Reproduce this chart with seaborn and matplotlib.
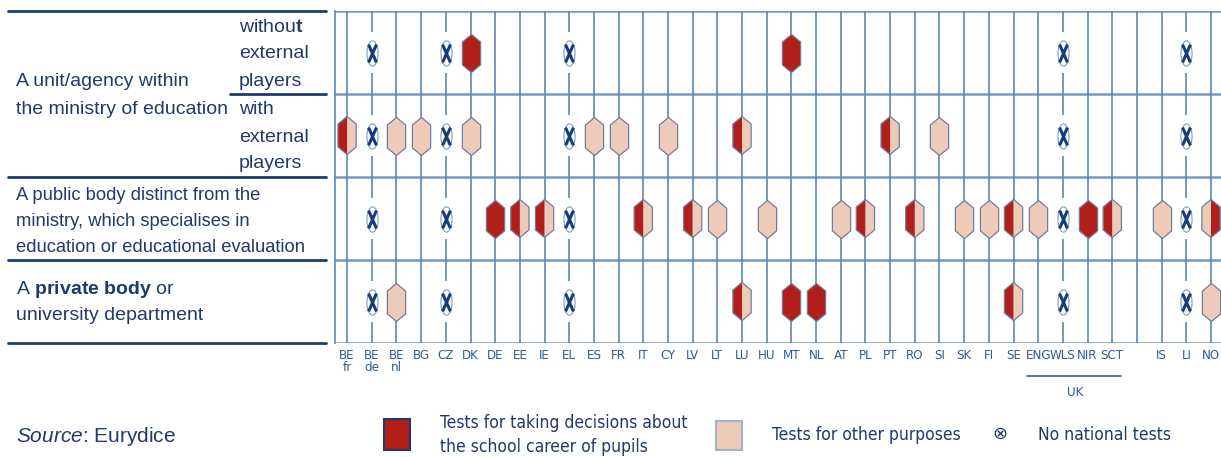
import numpy as np
import pandas as pd
import matplotlib.pyplot as plt
import matplotlib.transforms as mtransforms
from matplotlib import font_manager
from matplotlib.font_manager import FontProperties
from matplotlib.path import Path
from matplotlib.patches import Rectangle
from matplotlib.lines import Line2D
import seaborn as sns

# ---- data ----
codes = ['BE fr', 'BE de', 'BE nl', 'BG', 'CZ', 'DK', 'DE', 'EE', 'IE', 'EL',
         'ES', 'FR', 'IT', 'CY', 'LV', 'LT', 'LU', 'HU', 'MT', 'NL', 'AT', 'PL',
         'PT', 'RO', 'SI', 'SK', 'FI', 'SE', 'ENG', 'WLS', 'NIR', 'SCT', '',
         'IS', 'LI', 'NO']
tick_labels = [c.replace(' ', '\n') for c in codes]

# R = decisions about school career, P = other purposes,
# H = both (decisions left half), Hr = both (decisions right half), X = no national tests
row_without = {'BE de': 'X', 'CZ': 'X', 'DK': 'R', 'EL': 'X', 'MT': 'R',
               'WLS': 'X', 'LI': 'X'}
row_with = {'BE fr': 'H', 'BE de': 'X', 'BE nl': 'P', 'BG': 'P', 'CZ': 'X',
            'DK': 'P', 'EL': 'X', 'ES': 'P', 'FR': 'P', 'CY': 'P', 'LU': 'H',
            'PT': 'H', 'SI': 'P', 'WLS': 'X', 'LI': 'X'}
row_public = {'BE de': 'X', 'CZ': 'X', 'DE': 'R', 'EE': 'H', 'IE': 'H',
              'EL': 'X', 'IT': 'H', 'LV': 'H', 'LT': 'P', 'HU': 'P', 'AT': 'P',
              'PL': 'H', 'RO': 'H', 'SK': 'P', 'FI': 'P', 'SE': 'H', 'ENG': 'P',
              'WLS': 'X', 'NIR': 'R', 'SCT': 'H', 'IS': 'P', 'LI': 'X', 'NO': 'Hr'}
row_private = {'BE de': 'X', 'BE nl': 'P', 'CZ': 'X', 'EL': 'X', 'LU': 'H',
               'MT': 'R', 'NL': 'R', 'SE': 'H', 'WLS': 'X', 'LI': 'X', 'NO': 'P'}
rows = [row_without, row_with, row_public, row_private]

records = []
for r, d in enumerate(rows):
    for code, status in d.items():
        records.append({'x': codes.index(code), 'y': r + 0.5, 'status': status})
df = pd.DataFrame(records)

# ---- style ----
W, H = 1221, 457
RED = '#B21F1A'
PINK = '#EECBB9'
EDGE = '#6F7D9C'
GRID = '#5E86B8'
NAVY = '#1F3A6E'
TICK = '#2F5C9C'

sns.set_style('white')
plt.rcParams['font.family'] = ['Liberation Sans', 'DejaVu Sans']
plt.rcParams['mathtext.fontset'] = 'custom'
plt.rcParams['mathtext.rm'] = 'Liberation Sans'
plt.rcParams['mathtext.bf'] = 'Liberation Sans:bold'
plt.rcParams['mathtext.it'] = 'Liberation Sans:italic'

# look for a narrow / condensed face for the country codes and legend
narrow_file = None
files = [f.fname for f in font_manager.fontManager.ttflist]
for key in ['LiberationSansNarrow-Regular', 'DejaVuSansCondensed.ttf',
            'RobotoCondensed-Regular', 'OpenSans_Condensed-Regular',
            'OpenSansCondensed', 'NotoSans-Condensed.ttf', 'NotoSansDisplay-Condensed']:
    hits = [f for f in files if key in f.split('/')[-1]]
    if hits:
        narrow_file = hits[0]
        break
if narrow_file:
    tick_fp = FontProperties(fname=narrow_file, size=9.5)
    leg_fp = FontProperties(fname=narrow_file, size=12.5)
    uk_fp = FontProperties(fname=narrow_file, size=9.5)
else:
    tick_fp = FontProperties(family='Liberation Sans', size=8.5)
    leg_fp = FontProperties(family='Liberation Sans', size=11.5)
    uk_fp = FontProperties(family='Liberation Sans', size=8.5)


def fx(x):
    return x / W


def fy(y):
    return 1 - y / H


fig = plt.figure(figsize=(W / 100, H / 100), dpi=100)
ax = fig.add_axes([fx(335), fy(343), (W - 335) / W, (343 - 11) / H])

# marker shapes
hexagon = Path([(0, 0.5), (0.24, 0.3), (0.24, -0.3), (0, -0.5), (-0.24, -0.3),
                (-0.24, 0.3), (0, 0.5)], closed=True)
left_half = Path([(0, 0.5), (0, -0.5), (-0.24, -0.3), (-0.24, 0.3), (0, 0.5)],
                 closed=True)
right_half = Path([(0, 0.5), (0.24, 0.3), (0.24, -0.3), (0, -0.5), (0, 0.5)],
                  closed=True)
gap_rect = Path([(-0.07, -0.5), (0.07, -0.5), (0.07, 0.5), (-0.07, 0.5),
                 (-0.07, -0.5)], closed=True)
t = np.linspace(0, 2 * np.pi, 60)
oval = Path(np.column_stack([0.22 * np.cos(t), 0.5 * np.sin(t)]), closed=True)
cross = Path([(-0.22, -0.5), (0.22, 0.5), (-0.22, 0.5), (0.22, -0.5)],
             [Path.MOVETO, Path.LINETO, Path.MOVETO, Path.LINETO])

HEX_S = 750

# grid lines
for i in range(len(codes)):
    ax.axvline(i, color=GRID, lw=1.2, zorder=1)
for j in range(5):
    ax.axhline(j, color=GRID, lw=1.8, alpha=0.85, zorder=1)

# no national tests
nt = df[df.status == 'X']
sns.scatterplot(x=nt.x, y=nt.y, marker=gap_rect, s=830, color='white',
                edgecolor='none', linewidth=0, zorder=2, ax=ax, legend=False)
sns.scatterplot(x=nt.x, y=nt.y, marker=oval, s=330, color='white',
                edgecolor='#7D9CC6', linewidth=0.8, zorder=3, ax=ax, legend=False)
sns.scatterplot(x=nt.x, y=nt.y, marker=cross, s=165, color='#153D7A',
                edgecolor='#153D7A', linewidth=2.2, zorder=4, ax=ax, legend=False)

# full markers
for status, col in [('R', RED), ('P', PINK)]:
    sub = df[df.status == status]
    sns.scatterplot(x=sub.x, y=sub.y, marker=hexagon, s=HEX_S, color=col,
                    edgecolor=EDGE, linewidth=0.9, zorder=3, ax=ax, legend=False)

# split markers
for status, lcol, rcol in [('H', RED, PINK), ('Hr', PINK, RED)]:
    sub = df[df.status == status]
    sns.scatterplot(x=sub.x, y=sub.y, marker=left_half, s=HEX_S, color=lcol,
                    edgecolor='none', linewidth=0, zorder=3, ax=ax, legend=False)
    sns.scatterplot(x=sub.x, y=sub.y, marker=right_half, s=HEX_S, color=rcol,
                    edgecolor='none', linewidth=0, zorder=3, ax=ax, legend=False)
    sns.scatterplot(x=sub.x, y=sub.y, marker=hexagon, s=HEX_S, color='none',
                    edgecolor=EDGE, linewidth=0.9, zorder=4, ax=ax, legend=False)

ax.set_xlim(-0.49, (W - 347) / 24.686)
ax.set_ylim(4, 0)
ax.set_xlabel('')
ax.set_ylabel('')
ax.set_yticks([])
ax.set_xticks(range(len(codes)))
ax.set_xticklabels(tick_labels, fontproperties=tick_fp, color=TICK,
                   linespacing=0.85, va='top')
ax.tick_params(axis='x', length=3, color=GRID, width=1.2, pad=1.5)
for side in ['top', 'right', 'bottom']:
    ax.spines[side].set_visible(False)
ax.spines['left'].set_color(GRID)
ax.spines['left'].set_linewidth(1.2)

# UK bracket
tr = mtransforms.blended_transform_factory(ax.transData, fig.transFigure)
ax.add_line(Line2D([codes.index('ENG') - 0.45, codes.index('SCT') + 0.35],
                   [fy(376), fy(376)], transform=tr, color=TICK, lw=1.2,
                   clip_on=False))
ax.text((codes.index('WLS') + codes.index('NIR')) / 2, fy(393), 'UK',
        transform=tr, ha='center', va='center', fontproperties=uk_fp,
        color=TICK)

# left-side row labels
tl = mtransforms.blended_transform_factory(fig.transFigure, ax.transData)
for yv, x0 in [(0, 8), (1, 230), (2, 8), (3, 8), (4, 8)]:
    fig.add_artist(Line2D([fx(x0), fx(326)], [yv, yv], transform=tl,
                          color=NAVY, lw=2))

left_lines = [
    (16, 81, 'A unit/agency within', 14),
    (16, 109, 'the ministry of education', 14),
    (239, 27, r'withou$\mathbf{t}$', 14),
    (239, 54, 'external', 14),
    (239, 81, 'players', 14),
    (239, 110, 'with', 14),
    (239, 137, 'external', 14),
    (239, 164, 'players', 14),
    (16, 195, 'A public body distinct from the', 13.2),
    (16, 221, 'ministry, which specialises in', 13.2),
    (16, 247, 'education or educational evaluation', 13.2),
    (16, 289, r'A $\mathbf{private\ body}$ or', 14),
    (16, 315, 'university department', 14),
]
for x, y, s, size in left_lines:
    fig.text(fx(x), fy(y), s, fontsize=size, color=NAVY, ha='left', va='center')

# source + legend
fig.text(fx(16), fy(437), r'$\mathit{Source}$: Eurydice', fontsize=15,
         color=NAVY, ha='left', va='center')
fig.add_artist(Rectangle((fx(384), fy(450)), (410 - 384) / W, (450 - 419) / H,
                         transform=fig.transFigure, fc=RED, ec=NAVY, lw=1.5))
fig.add_artist(Rectangle((fx(716), fy(450)), (742 - 716) / W, (450 - 421) / H,
                         transform=fig.transFigure, fc=PINK, ec='#9FB2CC', lw=1.5))
fig.text(fx(440), fy(423), 'Tests for taking decisions about',
         fontproperties=leg_fp, color=NAVY, va='center')
fig.text(fx(440), fy(447), 'the school career of pupils',
         fontproperties=leg_fp, color=NAVY, va='center')
fig.text(fx(772), fy(435), 'Tests for other purposes',
         fontproperties=leg_fp, color=NAVY, va='center')
fig.text(fx(992), fy(434), '⊗', family=['DejaVu Sans'], fontsize=13,
         color=NAVY, va='center')
fig.text(fx(1038), fy(435), 'No national tests',
         fontproperties=leg_fp, color=NAVY, va='center')

fig.savefig('out.png', dpi=100)
